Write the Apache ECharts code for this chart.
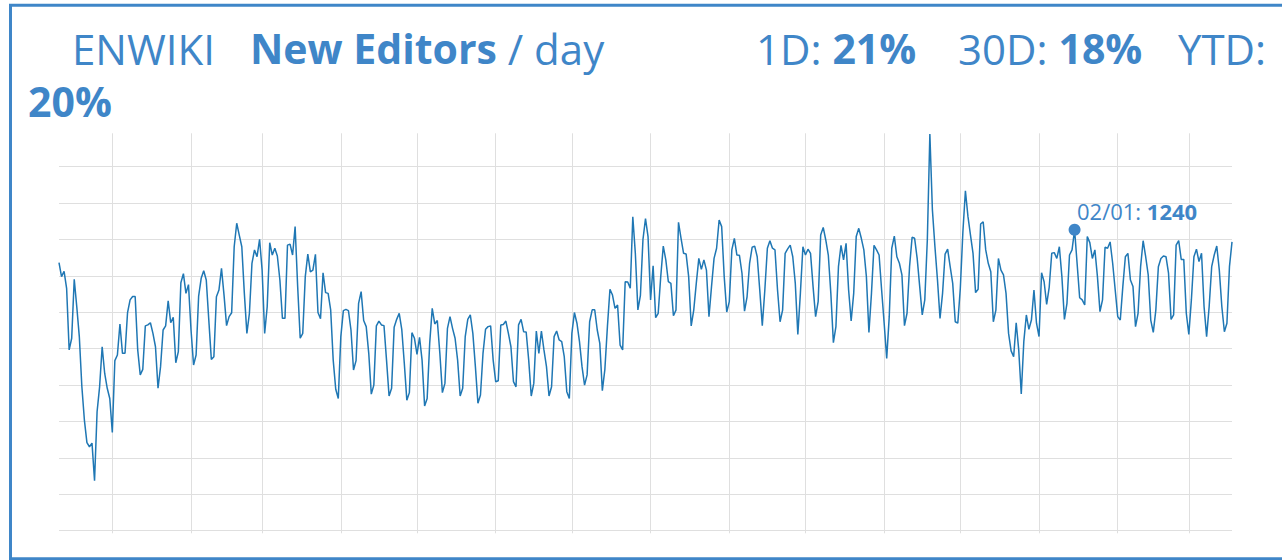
<!DOCTYPE html>
<html>
<head>
<meta charset="utf-8">
<title>ENWIKI New Editors / day</title>
<script src="https://cdn.jsdelivr.net/npm/echarts@6/dist/echarts.min.js"></script>
<style>
  html, body { margin: 0; padding: 0; background: #fff; overflow: hidden; }
  #chart { width: 1282px; height: 560px; }
</style>
</head>
<body>
<div id="chart"></div>
<script>
// header texts
let wiki = 'ENWIKI';
let metric = 'New Editors';
let unit = '/ day';
let changeNames = ['1D', '30D', 'YTD'];
let changeValues = ['21%', '18%', '20%'];

// one value per day, first day below
let startDate = '2017-12-28';
let newEditors = [
  1105, 1047, 1069, 999, 745, 793, 1036, 923, 800, 594,
  456, 363, 346, 361, 206, 490, 594, 758, 648, 587,
  545, 405, 701, 724, 852, 731, 731, 899, 951, 965,
  965, 745, 642, 665, 844, 848, 857, 813, 758, 587,
  676, 827, 844, 947, 857, 879, 692, 738, 1022, 1059,
  978, 1014, 827, 683, 724, 967, 1040, 1071, 1033, 868,
  706, 717, 964, 992, 1081, 971, 845, 882, 898, 1170,
  1267, 1218, 1170, 978, 813, 896, 1102, 1157, 1129, 1201,
  1074, 813, 923, 1187, 1136, 1164, 1132, 1033, 875, 875,
  1177, 1181, 1136, 1253, 1006, 793, 813, 1047, 1140, 1067,
  1074, 1139, 899, 874, 1063, 981, 978, 910, 703, 583,
  545, 800, 907, 912, 907, 827, 662, 701, 937, 985,
  866, 841, 731, 563, 600, 844, 864, 848, 845, 703,
  555, 587, 838, 871, 896, 830, 690, 538, 569, 816,
  793, 727, 797, 703, 514, 545, 772, 916, 852, 866,
  731, 569, 607, 834, 882, 834, 793, 703, 555, 587,
  800, 871, 889, 813, 676, 525, 559, 731, 830, 841,
  844, 703, 614, 618, 848, 850, 864, 813, 758, 614,
  593, 848, 871, 820, 819, 703, 555, 607, 823, 731,
  823, 745, 676, 555, 593, 800, 823, 786, 779, 717,
  573, 545, 813, 899, 855, 779, 676, 600, 642, 861,
  910, 910, 827, 772, 577, 665, 841, 995, 971, 916,
  930, 765, 745, 1026, 1025, 999, 1294, 1143, 910, 970,
  1200, 1286, 1212, 951, 1092, 878, 896, 1047, 1173, 1116,
  1026, 1019, 886, 909, 1271, 1205, 1143, 1140, 1047, 844,
  909, 1019, 1122, 1077, 1116, 1074, 882, 1006, 1122, 1164,
  1280, 1253, 1047, 901, 944, 1157, 1205, 1136, 1135, 1061,
  905, 964, 1102, 1168, 1173, 1129, 992, 845, 992, 1164,
  1195, 1164, 1157, 992, 861, 909, 1143, 1161, 1177, 1129,
  1019, 809, 978, 1170, 1136, 1160, 1143, 1006, 882, 944,
  1219, 1250, 1198, 1136, 978, 775, 841, 1088, 1176, 1116,
  1184, 992, 864, 978, 1212, 1246, 1205, 1157, 1047, 817,
  978, 1176, 1157, 1136, 992, 855, 710, 882, 1164, 1214,
  1129, 1102, 1054, 845, 896, 1088, 1209, 1205, 1122, 1006,
  889, 951, 1198, 1635, 1322, 1170, 1033, 875, 978, 1140,
  1160, 1088, 1019, 861, 855, 1000, 1230, 1401, 1295, 1218,
  1143, 981, 995, 1264, 1273, 1157, 1102, 1067, 861, 909,
  1122, 1074, 1054, 978, 813, 741, 717, 857, 745, 563,
  779, 889, 830, 868, 992, 855, 800, 1063, 1026, 933,
  1003, 1143, 1146, 1122, 1170, 1047, 871, 937, 1136, 1157,
  1240, 1100, 960, 951, 930, 1212, 1187, 1122, 1157, 1047,
  903, 951, 1168, 1164, 1190, 1102, 992, 882, 868, 1006,
  1129, 1143, 1033, 1006, 841, 896, 1088, 1195, 1129, 1054,
  868, 817, 909, 1088, 1122, 1132, 1129, 1061, 871, 889,
  1177, 1195, 1118, 1118, 896, 809, 951, 1129, 1160, 1109,
  1143, 923, 800, 923, 1088, 1136, 1173, 1074, 923, 820,
  855, 1088, 1190
];

// vertical grid lines (x ticks)
let monthTicks = [
  '2018-01-18', '2018-02-18', '2018-03-18', '2018-04-18', '2018-05-18',
  '2018-06-18', '2018-07-18', '2018-08-18', '2018-09-18', '2018-10-18',
  '2018-11-18', '2018-12-18', '2019-01-18', '2019-02-18', '2019-03-18'
];
// horizontal grid lines (y ticks)
let yMin = 0, yMax = 1650, yStep = 150;

let highlightDate = '2019-02-01';

let blue = '#3f86c8';
let lineBlue = '#1f77b4';
let gridGrey = '#dfdfdf';
let font = '"Open Sans", "Noto Sans", sans-serif';

// build the date categories
let dates = [];
let d0 = new Date(startDate + 'T00:00:00Z');
for (let i = 0; i < newEditors.length; i++) {
    let d = new Date(d0.getTime() + i * 86400000);
    dates.push(d.toISOString().slice(0, 10));
}
let highlightValue = newEditors[dates.indexOf(highlightDate)];

// hide the topmost horizontal line
let yLineColors = [];
for (let v = yMin; v <= yMax; v += yStep) {
    yLineColors.push(v < yMax ? gridGrey : 'rgba(0,0,0,0)');
}

function headText(x, y, text) {
    return {
        type: 'text',
        x: x,
        y: y,
        silent: true,
        style: {
            text: text,
            fontSize: 42,
            fontFamily: font,
            fill: blue,
            verticalAlign: 'middle',
            rich: {
                b: { fontSize: 41, fontFamily: font, fontWeight: 'bold', fill: blue }
            }
        }
    };
}

let chart = echarts.init(document.getElementById('chart'), null, { renderer: 'svg' });

let option = {
    animation: false,
    graphic: [
        {
            type: 'rect',
            silent: true,
            shape: { x: 10.5, y: 5.3, width: 1320, height: 553.4 },
            style: { fill: 'none', stroke: blue, lineWidth: 3 }
        },
        headText(72, 48, wiki),
        headText(250, 48, '{b|' + metric + '} ' + unit),
        headText(756, 48, changeNames[0] + ': {b|' + changeValues[0] + '}'),
        headText(958, 48, changeNames[1] + ': {b|' + changeValues[1] + '}'),
        headText(1178, 48, changeNames[2] + ':'),
        headText(28, 101, '{b|' + changeValues[2] + '}')
    ],
    grid: [
        { left: 59, top: 130.3, width: 1173, height: 400.4 },
        { left: 59, top: 133.3, width: 1173, height: 400 }
    ],
    xAxis: [
        {
            type: 'category',
            gridIndex: 0,
            data: dates,
            boundaryGap: false,
            axisLine: { show: false },
            axisTick: { show: false },
            axisLabel: { show: false },
            splitLine: { show: false }
        },
        {
            type: 'category',
            gridIndex: 1,
            data: dates,
            boundaryGap: false,
            axisLine: { show: false },
            axisTick: { show: false },
            axisLabel: { show: false },
            splitLine: {
                show: true,
                interval: function(idx, val) { return monthTicks.indexOf(val) >= 0; },
                lineStyle: { color: gridGrey, width: 1 }
            }
        }
    ],
    yAxis: [
        {
            type: 'value',
            gridIndex: 0,
            min: yMin,
            max: yMax,
            interval: yStep,
            axisLine: { show: false },
            axisTick: { show: false },
            axisLabel: { show: false },
            splitLine: { show: true, lineStyle: { color: yLineColors, width: 1 } }
        },
        {
            type: 'value',
            gridIndex: 1,
            show: false
        }
    ],
    series: [
        {
            type: 'line',
            xAxisIndex: 0,
            yAxisIndex: 0,
            data: newEditors,
            symbol: 'none',
            lineStyle: { color: lineBlue, width: 1.5 },
            markPoint: {
                symbol: 'circle',
                symbolSize: 12,
                silent: true,
                itemStyle: { color: blue },
                label: {
                    show: true,
                    position: [8.4, -1.6],
                    align: 'left',
                    verticalAlign: 'bottom',
                    color: blue,
                    fontSize: 22,
                    fontFamily: font,
                    formatter: function() {
                        let p = highlightDate.split('-');
                        return p[1] + '/' + p[2] + ': {b|' + highlightValue + '}';
                    },
                    rich: {
                        b: { fontSize: 22, fontFamily: font, fontWeight: 'bold', color: blue }
                    }
                },
                data: [{ coord: [highlightDate, highlightValue] }]
            }
        }
    ]
};

chart.setOption(option);
</script>
</body>
</html>
